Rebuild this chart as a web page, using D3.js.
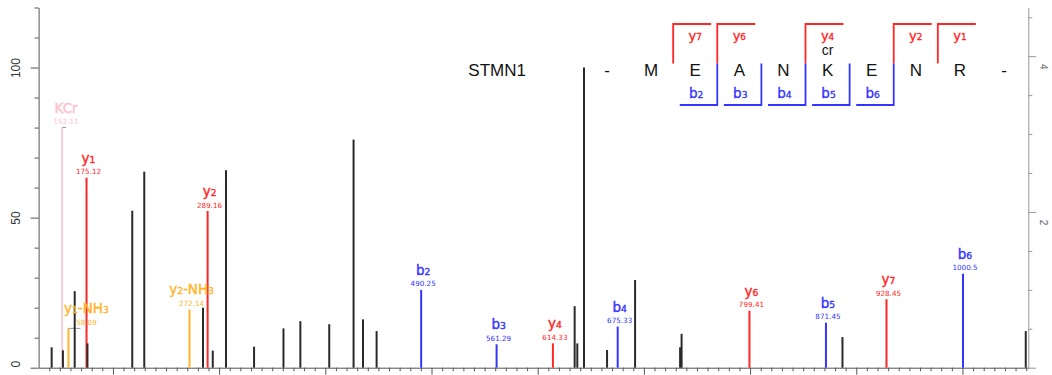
<!DOCTYPE html>
<html>
<head>
<meta charset="utf-8">
<script src="https://cdn.jsdelivr.net/npm/d3@7"></script>
<style>
  body { margin: 0; background: #fff; }
  svg { display: block; }
</style>
</head>
<body>
<div id="chart"></div>
<script>
// unannotated peaks (m/z, relative intensity %)
const peakMz = [142.3, 152.9, 164.0, 176.0, 218.2, 229.5, 284.8, 294.0, 306.5, 332.9,
  360.6, 376.5, 403.7, 426.6, 435.5, 448.3, 634.8, 637.3, 643.6, 665.3,
  691.7, 734.1, 735.5, 887.0, 1059.6];
const peakInt = [6.8, 5.8, 25.5, 8.1, 52.3, 65.3, 20, 5.7, 65.8, 7,
  13.1, 15.5, 14.5, 76, 16.1, 12.2, 20.5, 8.1, 100, 5.9,
  29.2, 6.8, 11.3, 10.2, 12.2];

// annotated fragment ions
const ionName = ["KCr", "y1-NH3", "y1", "y2-NH3", "y2", "b2", "b3", "y4", "b4", "y6", "b5", "y7", "b6"];
const ionType = ["mod", "nh3", "y", "nh3", "y", "b", "b", "y", "b", "y", "b", "y", "b"];
const ionMz = [152.11, 158.09, 175.12, 272.14, 289.16, 490.25, 561.29, 614.33, 675.33, 799.41, 871.45, 928.45, 1000.5];
const ionInt = [80, 13.1, 63.3, 19.4, 52.2, 25.9, 7.8, 8.1, 13.7, 19, 15, 22.8, 31.3];
const ionValue = ["152.11", "58.09", "175.12", "272.14", "289.16", "490.25", "561.29", "614.33", "675.33", "799.41", "871.45", "928.45", "1000.5"];

// peptide
const proteinName = "STMN1";
const sequence = ["-", "M", "E", "A", "N", "K", "E", "N", "R", "-"];
const bIons = [2, 3, 4, 5, 6];
const yIons = [7, 6, 4, 2, 1];
const modSite = 5;
const modText = "cr";

const leftTicks = [0, 50, 100];
const rightTicks = [2, 4];

const width = 1052, height = 375;
const colors = { y: "#ff2626", b: "#3434ff", nh3: "#ffb42c", mod: "#ffc2cc" };
const labelFont = "'DejaVu Sans', Verdana, sans-serif";
const seqFont = "'Liberation Sans', Arial, sans-serif";

// labels that were pushed aside and get a little connector
const labelShift = { "KCr": 4, "y1-NH3": 18 };
const connector = { "KCr": 4, "y1-NH3": 12 };

const svg = d3.select("#chart").append("svg")
  .attr("width", width)
  .attr("height", height);

const x = d3.scaleLinear().domain([130, 1062]).range([38.6, 1028.3]);
const y = d3.scaleLinear().domain([0, 120]).range([367.7, 7.5]);
const y2 = d3.scaleLinear().domain([0, 4.625]).range([367.7, 7.5]);

// axes
const xAxis = svg.append("g")
  .attr("transform", "translate(0," + y(0) + ")")
  .call(d3.axisBottom(x).tickValues(d3.range(140, 1061, 10)).tickFormat("").tickSizeOuter(0));
xAxis.selectAll(".tick line")
  .attr("y2", d => d % 100 === 0 ? 7 : 3.5)
  .attr("stroke", "#555");
xAxis.select(".domain").attr("stroke", "#555");

const yAxis = svg.append("g")
  .attr("transform", "translate(" + x(130) + ",0)")
  .call(d3.axisLeft(y).tickValues(d3.range(0, 121, 10)).tickSizeOuter(0)
    .tickFormat(d => leftTicks.includes(d) ? d : ""));
yAxis.select(".domain").attr("stroke", "#555");
yAxis.selectAll(".tick line")
  .attr("x2", d => leftTicks.includes(d) ? -8 : -4)
  .attr("stroke", "#555");
yAxis.selectAll(".tick text")
  .attr("transform", "rotate(-90)")
  .attr("x", d => d === 0 ? 4 : 0)
  .attr("y", -19)
  .attr("dy", 0)
  .attr("text-anchor", "middle")
  .attr("fill", "#333")
  .style("font", "12px " + seqFont);

const rAxis = svg.append("g")
  .attr("transform", "translate(" + x(1062) + ",0)")
  .call(d3.axisRight(y2).tickValues(d3.range(0, 4.6, 0.5)).tickSizeOuter(0)
    .tickFormat(d => rightTicks.includes(d) ? d : ""));
rAxis.select(".domain").attr("stroke", "#999");
rAxis.selectAll(".tick line")
  .attr("x2", d => (d === 0 || rightTicks.includes(d)) ? 8 : 4)
  .attr("stroke", "#999");
rAxis.selectAll(".tick text")
  .attr("transform", "rotate(90)")
  .attr("x", 10)
  .attr("y", -12)
  .attr("dy", 0)
  .attr("text-anchor", "middle")
  .attr("fill", "#666")
  .style("font", "10px " + seqFont);

// ion name with smaller digits
function ionText(sel, name, size) {
  name.match(/\d+|\D+/g).forEach(part => {
    sel.append("tspan")
      .attr("font-size", /\d/.test(part) ? size * 0.68 : size)
      .text(part);
  });
}

const ions = ionName.map((n, i) => ({
  name: n, type: ionType[i], mz: ionMz[i], v: ionInt[i], value: ionValue[i]
}));
const peaks = peakMz.map((m, i) => ({ mz: m, v: peakInt[i] }));

// coloured ion bars
svg.append("g").selectAll("line")
  .data(ions)
  .join("line")
  .attr("x1", d => x(d.mz)).attr("x2", d => x(d.mz))
  .attr("y1", y(0)).attr("y2", d => y(d.v))
  .attr("stroke", d => colors[d.type])
  .attr("stroke-width", d => d.type === "mod" ? 1.6 : 2);

svg.append("g").selectAll("line")
  .data(ions.filter(d => connector[d.name]))
  .join("line")
  .attr("x1", d => x(d.mz)).attr("x2", d => x(d.mz) + connector[d.name])
  .attr("y1", d => y(d.v)).attr("y2", d => y(d.v))
  .attr("stroke", "#999")
  .attr("stroke-width", 1);

// other peaks
svg.append("g").selectAll("line")
  .data(peaks)
  .join("line")
  .attr("x1", d => x(d.mz)).attr("x2", d => x(d.mz))
  .attr("y1", y(0)).attr("y2", d => y(d.v))
  .attr("stroke", "#2a2a2a")
  .attr("stroke-width", 2);

// ion labels
const lab = svg.append("g").selectAll("g")
  .data(ions)
  .join("g")
  .attr("transform", d => "translate(" + (x(d.mz) + (labelShift[d.name] || 2)) + "," + y(d.v) + ")")
  .attr("fill", d => colors[d.type])
  .style("font-family", labelFont)
  .attr("text-anchor", "middle");

lab.append("text")
  .attr("y", -15)
  .attr("stroke", d => colors[d.type])
  .attr("stroke-width", 0.4)
  .each(function (d) { ionText(d3.select(this), d.name, 13.5); });

lab.append("text")
  .attr("y", -3.5)
  .attr("font-size", 7.2)
  .text(d => d.value);

// peptide diagram
const pos = d3.scaleLinear().domain([0, sequence.length - 1]).range([607, 1004]);
const nRes = sequence.length - 2;
const diag = svg.append("g");

diag.append("text")
  .attr("x", 468.3).attr("y", 75.5)
  .attr("fill", "#111")
  .style("font", "17px " + seqFont)
  .text(proteinName);

diag.selectAll(".res")
  .data(sequence)
  .join("text")
  .attr("class", "res")
  .attr("x", (d, i) => pos(i))
  .attr("y", 75.5)
  .attr("text-anchor", "middle")
  .attr("fill", "#111")
  .style("font", "17px " + seqFont)
  .text(d => d);

diag.append("text")
  .attr("x", pos(modSite)).attr("y", 55)
  .attr("text-anchor", "middle")
  .attr("fill", "#111")
  .style("font", "14px " + seqFont)
  .text(modText);

diag.selectAll(".yb")
  .data(yIons)
  .join("path")
  .attr("class", "yb")
  .attr("d", n => {
    const bx = pos(nRes - n + 0.5);
    return "M" + bx + ",63.5V24H" + (bx + 38);
  })
  .attr("fill", "none")
  .attr("stroke", colors.y)
  .attr("stroke-width", 1.8);

diag.selectAll(".yl")
  .data(yIons)
  .join("text")
  .attr("class", "yl")
  .attr("x", n => pos(nRes - n + 1))
  .attr("y", 40)
  .attr("text-anchor", "middle")
  .attr("fill", colors.y)
  .attr("stroke", colors.y)
  .attr("stroke-width", 0.35)
  .style("font-family", labelFont)
  .each(function (n) { ionText(d3.select(this), "y" + n, 13); });

diag.selectAll(".bb")
  .data(bIons)
  .join("path")
  .attr("class", "bb")
  .attr("d", n => {
    const bx = pos(n + 0.5);
    return "M" + (bx - 37.5) + ",105H" + bx + "V63.5";
  })
  .attr("fill", "none")
  .attr("stroke", colors.b)
  .attr("stroke-width", 1.8);

diag.selectAll(".bl")
  .data(bIons)
  .join("text")
  .attr("class", "bl")
  .attr("x", n => pos(n) + 1)
  .attr("y", 98)
  .attr("text-anchor", "middle")
  .attr("fill", colors.b)
  .attr("stroke", colors.b)
  .attr("stroke-width", 0.35)
  .style("font-family", labelFont)
  .each(function (n) { ionText(d3.select(this), "b" + n, 13.5); });
</script>
</body>
</html>
